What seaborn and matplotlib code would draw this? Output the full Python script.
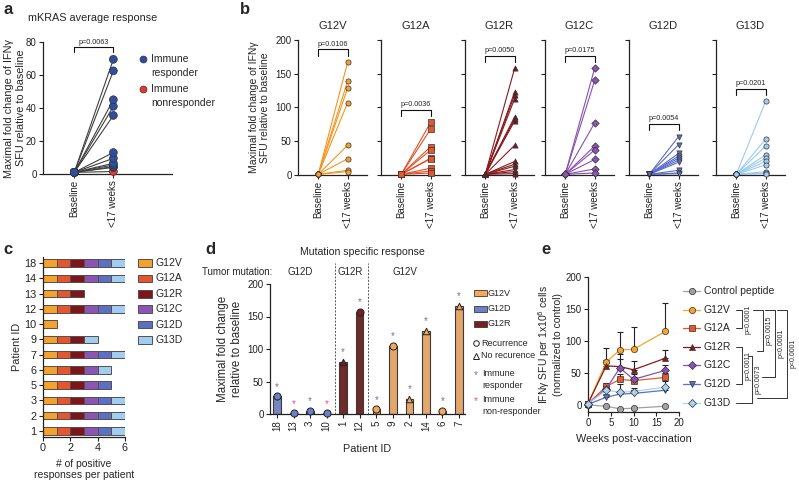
import numpy as np
import pandas as pd
import matplotlib.pyplot as plt
import seaborn as sns
from matplotlib.patches import Rectangle

sns.set_theme(style='ticks')
plt.rcParams['font.family'] = ['Liberation Sans', 'DejaVu Sans']
plt.rcParams['axes.linewidth'] = 0.9
plt.rcParams['xtick.major.width'] = 0.8
plt.rcParams['ytick.major.width'] = 0.8
plt.rcParams['xtick.major.size'] = 3
plt.rcParams['ytick.major.size'] = 3

# ---------------- data ----------------
# a: average mKRAS response (nonresponder listed first)
a_baseline = [1, 1, 1, 1, 1, 1, 1, 1, 1, 1, 1, 1]
a_week17 = [1.5, 4, 4.5, 5.5, 6.5, 9.5, 13, 35.5, 41, 45, 62.5, 69.5]
a_responder = [False] + [True] * 11
a_pval = 'p=0.0063'

# b: per-mutation responses
mutations = ['G12V', 'G12A', 'G12R', 'G12C', 'G12D', 'G13D']
b_g12v = [167, 139, 129, 107, 44, 24, 7, 5]
b_g12a = [78, 68, 42, 37, 25, 24, 10, 6, 3]
b_g12r = [158, 123, 119, 113, 86, 83, 80, 44, 20, 16, 13, 8, 5, 2]
b_g12c = [158, 140, 77, 43, 37, 23, 9, 3]
b_g12d = [57, 45, 32, 28, 25, 22, 19, 7, 3, 2]
b_g13d = [109, 53, 43, 30, 25, 20, 15, 5, 3, 2]
b_pvals = ['p=0.0106', 'p=0.0036', 'p=0.0050', 'p=0.0175', 'p=0.0054', 'p=0.0201']
b_markers = ['o', 's', '^', 'D', 'v', 'o']

# c: positive responses per patient
c_patients = ['18', '14', '13', '12', '10', '9', '7', '6', '5', '3', '2', '1']
c_responses = [
    ['G12V', 'G12A', 'G12R', 'G12C', 'G12D', 'G13D'],
    ['G12V', 'G12A', 'G12R', 'G12C', 'G12D', 'G13D'],
    ['G12V', 'G12A', 'G12R'],
    ['G12V', 'G12A', 'G12R', 'G12C', 'G12D', 'G13D'],
    ['G12V'],
    ['G12V', 'G12A', 'G12R', 'G13D'],
    ['G12V', 'G12A', 'G12R', 'G12C', 'G12D', 'G13D'],
    ['G12V', 'G12A', 'G12R', 'G12C', 'G13D'],
    ['G12V', 'G12A', 'G12R', 'G12C', 'G12D'],
    ['G12V', 'G12A', 'G12R', 'G12C', 'G12D', 'G13D'],
    ['G12V', 'G12A', 'G12R', 'G12C', 'G12D', 'G13D'],
    ['G12V', 'G12A', 'G12R', 'G12C', 'G12D', 'G13D'],
]

# d: mutation specific response
d_patients = ['18', '13', '3', '10', '1', '12', '5', '9', '2', '14', '6', '7']
d_mutation = ['G12D'] * 4 + ['G12R'] * 2 + ['G12V'] * 6
d_values = [27, 1, 5, 1, 80, 157, 7, 105, 23, 128, 5, 166]
d_recurrence = [True, True, True, True, False, True, True, True, False, False, True, False]
d_responder = [True, False, True, False, True, True, True, True, True, True, True, True]
d_groups = ['G12D', 'G12R', 'G12V']

# e: time course
e_weeks = [0, 4, 7, 10, 17]
e_groups = ['Control peptide', 'G12V', 'G12A', 'G12R', 'G12C', 'G12D', 'G13D']
e_control = [0, -2, -6, -5, -2]
e_g12v = [2, 67, 86, 87, 115]
e_g12a = [2, 29, 40, 38, 43]
e_g12r = [2, 61, 60, 55, 73]
e_g12c = [2, 25, 58, 40, 54]
e_g12d = [1, 12, 17, 18, 23]
e_g13d = [2, 23, 20, 21, 28]
e_g12v_err = [0, 22, 28, 35, 45]
e_g12a_err = [0, 5, 8, 6, 7]
e_g12r_err = [0, 9, 19, 14, 13]
e_g12c_err = [0, 5, 14, 8, 9]
e_g12d_err = [0, 4, 5, 5, 6]
e_g13d_err = [0, 7, 12, 6, 9]
e_pvals = ['p=0.0001', 'p=0.0011', 'p=0.0073', 'p=0.0015', 'p<0.0001', 'p<0.0001']

# ---------------- colours ----------------
mut_colors = {'G12V': '#F6A12E', 'G12A': '#E4572E', 'G12R': '#7E1518',
              'G12C': '#8C55B3', 'G12D': '#5C6FC2', 'G13D': '#A3CDF0'}
line_colors = {'G12V': '#F7941D', 'G12A': '#E4502A', 'G12R': '#8A1A1C',
               'G12C': '#8A4DB3', 'G12D': '#5A6CC6', 'G13D': '#9CCBF0'}
d_colors = {'G12D': '#6B80CB', 'G12R': '#7A1F1F', 'G12V': '#F6A75A'}
e_colors = {'Control peptide': '#A0A0A0', 'G12V': '#F7A428', 'G12A': '#E55A2B',
            'G12R': '#8B1A1A', 'G12C': '#8A4FB5', 'G12D': '#5B72C8', 'G13D': '#A8D2F2'}
e_mk = {'Control peptide': 'o', 'G12V': 'o', 'G12A': 's', 'G12R': '^',
        'G12C': 'D', 'G12D': 'v', 'G13D': 'D'}
blue, red = '#2E4E9E', '#E8372C'
edge = '#333333'

W, H = 799, 480
fig = plt.figure(figsize=(W / 100, H / 100), dpi=100)


def box(l, t, r, b):
    return [l / W, 1 - b / H, (r - l) / W, (b - t) / H]


def style(ax, fs=7):
    sns.despine(ax=ax)
    ax.tick_params(labelsize=fs, pad=1.5, colors='#222222')
    for s in ax.spines.values():
        s.set_color('#222222')


def bracket(ax, y, h, text, fs=5.2):
    ax.plot([0, 0, 1, 1], [y, y + h, y + h, y], color='#111111', lw=0.8, clip_on=False)
    ax.text(0.5, y + h * 1.25, text, ha='center', va='bottom', fontsize=fs)


# ---------------- panel a ----------------
ax = fig.add_axes(box(43, 42, 172, 174))
n = len(a_week17)
df_a = pd.DataFrame({'pid': list(range(n)) * 2, 'pos': [0] * n + [1] * n,
                     'val': a_baseline + a_week17, 'resp': a_responder * 2})
sns.lineplot(data=df_a, x='pos', y='val', units='pid', estimator=None,
             color='#404040', lw=0.8, ax=ax)
sns.scatterplot(data=df_a, x='pos', y='val', hue='resp', palette={True: blue, False: red},
                s=32, edgecolor=edge, linewidth=0.5, legend=False, ax=ax, zorder=3, clip_on=False)
ax.set_xlim(-0.8, 2.5)
ax.set_ylim(0, 80)
ax.set_yticks([0, 20, 40, 60, 80])
ax.set_xticks([0, 1])
ax.set_xticklabels(['Baseline', '<17 weeks'], rotation=90)
ax.set_xlabel('')
ax.set_ylabel('Maximal fold change of IFNγ\nSFU relative to baseline', fontsize=7.8)
ax.yaxis.set_label_coords(-0.135, 0.5)
style(ax)
bracket(ax, max(a_week17) + 4.5, 3, a_pval)

# ---------------- panel b ----------------
b_lists = [b_g12v, b_g12a, b_g12r, b_g12c, b_g12d, b_g13d]
b_lefts = [298, 381, 465, 545, 629, 716]
for i, (m, vals) in enumerate(zip(mutations, b_lists)):
    ax = fig.add_axes(box(b_lefts[i], 40, b_lefts[i] + 69, 175))
    k = len(vals)
    df_b = pd.DataFrame({'pid': list(range(k)) * 2, 'pos': [0] * k + [1] * k,
                         'val': [1] * k + vals})
    sns.lineplot(data=df_b, x='pos', y='val', units='pid', estimator=None,
                 color=line_colors[m], lw=0.8, ax=ax)
    sns.scatterplot(data=df_b, x='pos', y='val', color=mut_colors[m], marker=b_markers[i],
                    s=14, edgecolor=edge, linewidth=0.5, ax=ax, zorder=3, clip_on=False)
    ax.set_xlim(-0.69, 1.66)
    ax.set_ylim(0, 200)
    ax.set_yticks([0, 50, 100, 150, 200])
    ax.set_xticks([0, 1])
    ax.set_xticklabels(['Baseline', '<17 weeks'], rotation=90)
    ax.set_xlabel('')
    if i == 0:
        ax.set_ylabel('Maximal fold change of IFNγ\nSFU relative to baseline', fontsize=7.5)
        ax.yaxis.set_label_coords(-0.4, 0.5)
    else:
        ax.set_yticklabels([])
        ax.set_ylabel('')
    ax.set_title(m, fontsize=8, pad=8)
    style(ax)
    bracket(ax, max(vals) + 10, 9, b_pvals[i])

# ---------------- panel c ----------------
ax = fig.add_axes(box(43, 257, 125, 437))
for row, (pid, resp) in enumerate(zip(c_patients[::-1], c_responses[::-1])):
    for k, m in enumerate(resp):
        ax.barh(row, 1, left=k, height=0.48, color=mut_colors[m], edgecolor='#505050', linewidth=0.7)
ax.set_xlim(0, 6)
ax.set_ylim(-0.4, 11.4)
ax.set_xticks([0, 2, 4, 6])
ax.set_yticks(range(len(c_patients)))
ax.set_yticklabels(c_patients[::-1])
ax.set_ylabel('Patient ID', fontsize=7.8, labelpad=2)
ax.set_xlabel('# of positive\nresponses per patient', fontsize=7.5, labelpad=4)
style(ax, fs=7.8)

# ---------------- panel d ----------------
ax = fig.add_axes(box(270, 284, 465, 414))
df_d = pd.DataFrame({'pid': d_patients, 'val': d_values, 'mut': d_mutation})
sns.barplot(data=df_d, x='pid', y='val', hue='mut', palette=d_colors, order=d_patients,
            dodge=False, width=0.45, edgecolor='#3a3a3a', linewidth=0.8, legend=False, ax=ax)
for i, (v, m, rec, resp) in enumerate(zip(d_values, d_mutation, d_recurrence, d_responder)):
    ax.scatter(i, v, marker='o' if rec else '^', s=26 if rec else 22, color=d_colors[m],
               edgecolor='#222222', linewidth=0.7, zorder=4, clip_on=False)
    ax.text(i, v + 15, '*', ha='center', va='center', fontsize=7,
            color='#6E6FB3' if resp else '#F0506E')
for xv in [3.5, 5.5]:
    ax.axvline(xv, ymin=0, ymax=1 + 21 / 130, color='#555555', lw=0.7, ls=(0, (2, 1.5)), clip_on=False)
ax.set_xlim(-0.42, 11.36)
ax.set_ylim(0, 200)
ax.set_yticks([0, 50, 100, 150, 200])
ax.set_xticks(range(len(d_patients)))
ax.set_xticklabels(d_patients, rotation=90)
ax.set_xlabel('Patient ID', fontsize=7.8, labelpad=9)
ax.set_ylabel('Maximal fold change\nrelative to baseline', fontsize=8.3)
ax.yaxis.set_label_coords(-0.14, 0.5)
style(ax)

# ---------------- panel e ----------------
ax = fig.add_axes(box(588, 277, 679, 412))
e_lists = [e_control, e_g12v, e_g12a, e_g12r, e_g12c, e_g12d, e_g13d]
e_errs = [None, e_g12v_err, e_g12a_err, e_g12r_err, e_g12c_err, e_g12d_err, e_g13d_err]
df_e = pd.DataFrame({'week': e_weeks * len(e_groups),
                     'sfu': sum(e_lists, []),
                     'grp': sum([[g] * len(e_weeks) for g in e_groups], [])})
for vals, err in zip(e_lists, e_errs):
    if err is not None:
        ax.errorbar(e_weeks, vals, yerr=[[0] * len(err), err], fmt='none', ecolor='#222222',
                    elinewidth=0.8, capsize=2.5, capthick=0.8, zorder=1.5)
sns.lineplot(data=df_e, x='week', y='sfu', hue='grp', style='grp', hue_order=e_groups,
             style_order=e_groups, palette=e_colors, markers=e_mk, dashes=False,
             markersize=4.5, markeredgecolor=edge, markeredgewidth=0.5, lw=0.9,
             legend=False, ax=ax, clip_on=False, zorder=3)
ax.set_xlim(0, 20)
ax.set_ylim(-11, 200)
ax.set_yticks([0, 50, 100, 150, 200])
ax.set_xticks([0, 5, 10, 15, 20])
ax.set_xlabel('Weeks post-vaccination', fontsize=7.8, labelpad=4)
ax.set_ylabel('IFNγ SFU per 1x10$^{6}$ cells\n(normalized to control)', fontsize=7.5)
ax.yaxis.set_label_coords(-0.27, 0.5)
style(ax)

# ---------------- overlay: letters, legends, brackets ----------------
ov = fig.add_axes([0, 0, 1, 1])
ov.set_xlim(0, W)
ov.set_ylim(H, 0)
ov.axis('off')

for lbl, x, y in [('a', 3, 10), ('b', 240, 10), ('c', 3, 250), ('d', 205, 250), ('e', 541, 250)]:
    ov.text(x, y, lbl, fontsize=12, fontweight='bold', va='center', ha='left')

ov.text(93, 18, 'mKRAS average response', fontsize=7.8, ha='center', va='center')

# legend a
for y, c, l1, l2 in [(59, blue, 'Immune', 'responder'), (89, red, 'Immune', 'nonresponder')]:
    ov.plot(143, y, 'o', ms=5, color=c, mec=edge, mew=0.5)
    ov.text(151, y, l1, fontsize=7.5, va='center')
    ov.text(151, y + 14, l2, fontsize=7.5, va='center')

# legend c
for i, m in enumerate(mutations):
    y = 263 + i * 15.4
    ov.add_patch(Rectangle((138, y - 3.8), 14, 7.6, facecolor=mut_colors[m], edgecolor='#505050', lw=0.7))
    ov.text(156, y, m, fontsize=7.5, va='center')

# panel d header
ov.text(362, 252, 'Mutation specific response', fontsize=7.6, ha='center', va='center')
ov.text(202, 272, 'Tumor mutation:', fontsize=7, ha='left', va='center')
for g, x in zip(d_groups, [300, 350, 405]):
    ov.text(x, 272, g, fontsize=7, ha='center', va='center')

# legend d
for i, g in enumerate(['G12V', 'G12D', 'G12R']):
    y = 293 + i * 15.5
    ov.add_patch(Rectangle((474, y - 3), 13, 6, facecolor=d_colors[g], edgecolor='#3a3a3a', lw=0.6))
    ov.text(488, y, g, fontsize=6.5, va='center')
ov.plot(476, 343, 'o', ms=4, mfc='none', mec='#222222', mew=0.7)
ov.text(481, 343, 'Recurrence', fontsize=6.5, va='center')
ov.plot(476, 356, '^', ms=4, mfc='none', mec='#222222', mew=0.7)
ov.text(481, 356, 'No recurence', fontsize=6.5, va='center')
ov.text(476, 375, '*', fontsize=7, color='#6E6FB3', ha='center', va='center')
ov.text(482, 374, 'Immune', fontsize=6.5, va='center')
ov.text(482, 386, 'responder', fontsize=6.5, va='center')
ov.text(476, 401, '*', fontsize=7, color='#F0506E', ha='center', va='center')
ov.text(482, 400, 'Immune', fontsize=6.5, va='center')
ov.text(482, 412, 'non-responder', fontsize=6.5, va='center')

# legend e
rows = {}
for i, g in enumerate(e_groups):
    y = 291 + i * 18.6
    rows[g] = y
    ov.plot([683, 700], [y, y], color=e_colors[g], lw=0.9)
    ov.plot(691.5, y, e_mk[g], ms=4.5, color=e_colors[g], mec=edge, mew=0.5)
    ov.text(704, y, g, fontsize=7.5, va='center')


def vbr(x, y1, y2, a1, a2, text, tx):
    ov.plot([a1, x, x, a2], [y1, y1, y2, y2], color='#333333', lw=0.7)
    ov.text(tx, (y1 + y2) / 2, text, fontsize=5, rotation=90, ha='center', va='center')


vbr(742, rows['G12V'], rows['G12A'], 736, 736, e_pvals[0], 748)
vbr(742, rows['G12R'], rows['G12D'], 736, 736, e_pvals[1], 748)
vbr(752, 356, rows['G13D'], 748, 736, e_pvals[2], 758)
vbr(763, rows['G12V'], 351, 753, 757, e_pvals[3], 769)
vbr(775, rows['G12V'], 377, 765, 762, e_pvals[4], 781)
vbr(787, rows['G12V'], 398, 777, 757, e_pvals[5], 793)

fig.savefig('out.png', dpi=100)
